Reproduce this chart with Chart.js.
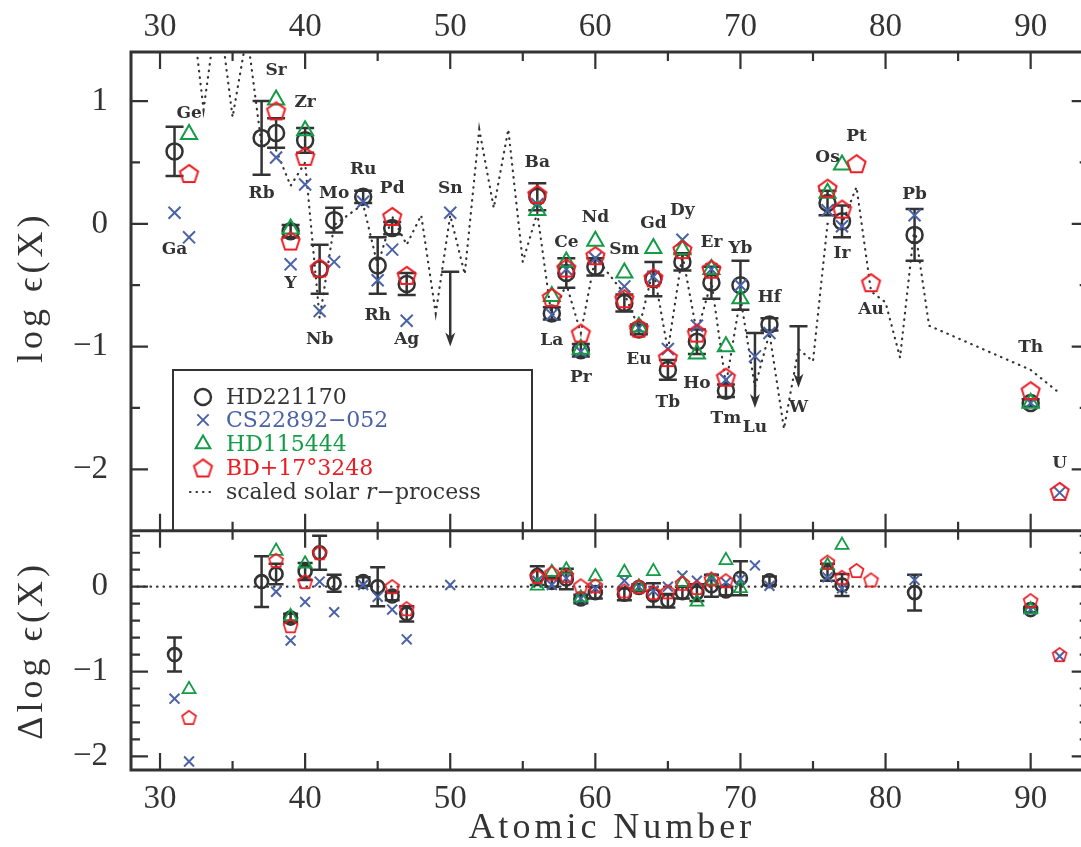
<!DOCTYPE html>
<html>
<head>
<meta charset="utf-8">
<script src="https://cdn.jsdelivr.net/npm/chart.js@4/dist/chart.umd.min.js"></script>
<style>
html,body{margin:0;padding:0;background:#fff;overflow:hidden}
#wrap{width:1100px;height:847px;position:relative}
</style>
</head>
<body>
<div id="wrap"><canvas id="c"></canvas></div>
<script>
// HD221170 (circles, with error bars)
const hdZ = [31,37,38,39,40,41,42,44,45,46,47,56,57,58,59,60,62,63,64,65,66,67,68,69,70,72,76,77,82,90];
const hdLog = [0.59,0.70,0.74,-0.06,0.68,-0.37,0.03,0.22,-0.34,-0.035,-0.49,0.22,-0.73,-0.40,-1.03,-0.35,-0.645,-0.86,-0.45,-1.19,-0.31,-0.96,-0.48,-1.36,-0.50,-0.82,0.17,0.02,-0.09,-1.46];
const hdErr = [0.20,0.30,0.12,0.05,0.10,0.20,0.10,0.05,0.23,0.05,0.09,0.11,0.05,0.12,0.05,0.07,0.07,0.04,0.14,0.08,0.07,0.10,0.13,0.05,0.20,0.05,0.10,0.13,0.21,0.03];
const hdDelta = [-0.80,0.06,0.15,-0.37,0.18,0.40,0.04,0.06,0.00,-0.11,-0.32,0.13,0.05,0.09,-0.145,-0.07,-0.09,-0.01,-0.10,-0.165,-0.07,-0.07,0.01,-0.05,0.10,0.07,0.17,0.02,-0.07,-0.27];
// HD221170 upper limits (Sn, Lu, W)
const ulZ = [50,71,74];
const ulLog = [-0.39,-0.89,-0.835];
const ulLen = [0.61,0.61,0.50];

// CS22892-052
const csZ = [31,32,38,39,40,41,42,44,45,46,47,50,56,57,58,59,60,62,63,64,65,66,67,68,69,70,71,72,76,77,82,90,92];
const csLog = [0.09,-0.11,0.54,-0.33,0.32,-0.71,-0.31,0.18,-0.46,-0.21,-0.79,0.09,0.16,-0.74,-0.37,-1.04,-0.28,-0.51,-0.85,-0.43,-1.02,-0.13,-0.83,-0.37,-1.27,-0.50,-1.08,-0.89,0.11,-0.02,0.07,-1.46,-2.19];
const csDelta = [-1.32,-2.06,-0.06,-0.635,-0.18,0.06,-0.30,0.02,-0.12,-0.27,-0.62,0.02,0.07,0.02,0.10,-0.14,-0.02,0.07,0.0,-0.05,0.0,0.13,0.07,0.10,0.05,0.09,0.25,0.01,0.11,-0.02,0.08,-0.27,-0.82];

// HD115444
const gZ = [32,38,39,40,56,57,58,59,60,62,63,64,66,67,68,69,70,76,77,90];
const gLog = [0.73,1.01,-0.04,0.76,0.11,-0.59,-0.31,-1.02,-0.14,-0.40,-0.84,-0.20,-0.21,-1.06,-0.37,-1.00,-0.61,0.25,0.48,-1.46];
const gDelta = [-1.21,0.42,-0.35,0.27,0.01,0.17,0.20,-0.13,0.12,0.17,0.0,0.18,0.05,-0.18,0.07,0.31,-0.02,0.25,0.49,-0.27];

// BD+17 3248
const rZ = [32,38,39,40,41,46,47,56,57,58,59,60,62,63,64,65,66,67,68,69,76,77,78,79,90,92];
const rLog = [0.41,0.92,-0.14,0.55,-0.36,0.06,-0.42,0.24,-0.60,-0.36,-0.89,-0.26,-0.61,-0.85,-0.44,-1.09,-0.21,-0.89,-0.37,-1.25,0.29,0.12,0.49,-0.48,-1.36,-2.18];
const rDelta = [-1.54,0.31,-0.46,0.06,0.40,0.0,-0.26,0.12,0.16,0.13,0.01,0.01,-0.05,0.0,-0.07,-0.06,0.04,-0.01,0.09,0.07,0.29,0.11,0.19,0.08,-0.165,-0.80];

// scaled solar r-process
const sZ = [31,32,33,34,35,36,37,38,39,40,41,42,44,45,46,47,48,49,50,51,52,53,54,55,56,57,58,59,60,62,63,64,65,66,67,68,69,70,71,72,73,74,75,76,77,78,79,80,81,82,83,90,92];
const sLog = [1.40,1.95,0.93,1.80,0.87,1.55,0.64,0.60,0.31,0.50,-0.77,-0.01,0.16,-0.34,0.06,-0.17,0.07,-0.73,0.07,-0.41,0.77,0.13,0.77,-0.31,0.09,-0.77,-0.49,-0.89,-0.27,-0.57,-0.85,-0.37,-1.03,-0.25,-0.89,-0.47,-1.31,-0.60,-1.33,-0.89,-1.67,-1.02,-1.12,0.0,0.0,0.30,-0.55,-0.64,-1.09,-0.02,-0.83,-1.19,-1.38];

// element names and where their label sits (log eps)
const elNames = ['Ga','Ge','Rb','Sr','Y','Zr','Nb','Mo','Ru','Rh','Pd','Ag','Sn','Ba','La','Ce','Pr','Nd','Sm','Eu','Gd','Tb','Dy','Ho','Er','Tm','Yb','Lu','Hf','W','Os','Ir','Pt','Au','Pb','Th','U'];
const elZ = [31,32,37,38,39,40,41,42,44,45,46,47,50,56,57,58,59,60,62,63,64,65,66,67,68,69,70,71,72,74,76,77,78,79,82,90,92];
const elLabelY = [-0.21,0.90,0.25,1.25,-0.49,0.99,-0.94,0.25,0.44,-0.75,0.29,-0.94,0.29,0.50,-0.95,-0.15,-1.25,0.05,-0.21,-1.11,0.0,-1.46,0.11,-1.30,-0.15,-1.59,-0.20,-1.66,-0.60,-1.50,0.54,-0.24,0.71,-0.70,0.24,-1.01,-1.95];

const xTicks = [30,40,50,60,70,80,90];
const yTopTicks = [-2,-1,0,1];
const yBotTicks = [-2,-1,0];

const INK = '#333333', BLUE = '#4a62a6', GREEN = '#129c45', RED = '#ec1c24';
const XMIN = 28, XMAX = 94;

function pentagon(R, lw, color) {
  const s = Math.ceil(2 * R + lw + 4);
  const c = document.createElement('canvas');
  c.width = s; c.height = s;
  const g = c.getContext('2d');
  g.strokeStyle = color; g.lineWidth = lw;
  g.beginPath();
  for (let i = 0; i < 5; i++) {
    const a = -Math.PI / 2 + i * 2 * Math.PI / 5;
    const px = s / 2 + R * Math.cos(a), py = s / 2 + R * Math.sin(a) + 0.095 * R;
    if (i) g.lineTo(px, py); else g.moveTo(px, py);
  }
  g.closePath(); g.stroke();
  return c;
}
const pentBig = pentagon(9.5, 2, RED);
const pentSmall = pentagon(7.3, 1.7, RED);

const pts = (zs, vs) => zs.map((z, i) => ({x: z, y: vs[i]}));
const minusFmt = v => v < 0 ? '\u2212' + Math.abs(v) : String(v);

function bar(ctx, x, y1, y2, h) {
  ctx.beginPath();
  ctx.moveTo(x, y1); ctx.lineTo(x, y2);
  ctx.moveTo(x - h, y1); ctx.lineTo(x + h, y1);
  ctx.moveTo(x - h, y2); ctx.lineTo(x + h, y2);
  ctx.stroke();
}

const decor = {
  id: 'decor',
  beforeDatasetsDraw(chart) {
    const {ctx, scales} = chart;
    const x = scales.x, yt = scales.y, yb = scales.yb;
    ctx.save();
    ctx.strokeStyle = INK; ctx.fillStyle = INK; ctx.lineWidth = 2.5;
    hdZ.forEach((z, i) => {
      const px = x.getPixelForValue(z);
      bar(ctx, px, yt.getPixelForValue(hdLog[i] - hdErr[i]), yt.getPixelForValue(hdLog[i] + hdErr[i]), 9);
      bar(ctx, px, yb.getPixelForValue(hdDelta[i] - hdErr[i]), yb.getPixelForValue(hdDelta[i] + hdErr[i]), 7.5);
    });
    ulZ.forEach((z, i) => {
      const px = x.getPixelForValue(z);
      const top = yt.getPixelForValue(ulLog[i]);
      const tip = yt.getPixelForValue(ulLog[i] - ulLen[i]);
      ctx.beginPath();
      ctx.moveTo(px - 9, top); ctx.lineTo(px + 9, top);
      ctx.moveTo(px, top); ctx.lineTo(px, tip - 8);
      ctx.stroke();
      ctx.beginPath();
      ctx.moveTo(px, tip); ctx.lineTo(px - 5, tip - 14); ctx.lineTo(px, tip - 10); ctx.lineTo(px + 5, tip - 14);
      ctx.closePath(); ctx.fill();
    });
    ctx.restore();
  },
  afterDraw(chart) {
    const {ctx, scales, chartArea: ca} = chart;
    const x = scales.x, yt = scales.y, yb = scales.yb;
    ctx.save();
    ctx.strokeStyle = INK; ctx.lineWidth = 3;
    ctx.strokeRect(ca.left, ca.top, ca.right - ca.left, ca.bottom - ca.top);
    ctx.beginPath(); ctx.moveTo(ca.left, yt.bottom); ctx.lineTo(ca.right, yt.bottom); ctx.stroke();

    // inward ticks
    ctx.lineWidth = 2.2;
    ctx.beginPath();
    for (let v = 30; v <= 90; v += 5) {
      const px = x.getPixelForValue(v), L = v % 10 === 0 ? 17 : 9;
      ctx.moveTo(px, yt.top); ctx.lineTo(px, yt.top + L);
      ctx.moveTo(px, yt.bottom); ctx.lineTo(px, yt.bottom - L);
      ctx.moveTo(px, yb.top); ctx.lineTo(px, yb.top + L);
      ctx.moveTo(px, yb.bottom); ctx.lineTo(px, yb.bottom - L);
    }
    for (let k = -4; k <= 2; k++) {
      const py = yt.getPixelForValue(k / 2), L = k % 2 === 0 ? 17 : 9;
      ctx.moveTo(ca.left, py); ctx.lineTo(ca.left + L, py);
      ctx.moveTo(ca.right, py); ctx.lineTo(ca.right - L, py);
    }
    for (let k = -10; k <= 3; k++) {
      const py = yb.getPixelForValue(k / 5), L = k % 5 === 0 ? 17 : 9;
      ctx.moveTo(ca.left, py); ctx.lineTo(ca.left + L, py);
      ctx.moveTo(ca.right, py); ctx.lineTo(ca.right - L, py);
    }
    ctx.stroke();

    // element labels
    ctx.fillStyle = INK;
    ctx.font = 'bold 17px "DejaVu Serif"';
    ctx.textAlign = 'center'; ctx.textBaseline = 'middle';
    elNames.forEach((n, i) => {
      ctx.fillText(n, x.getPixelForValue(elZ[i]), yt.getPixelForValue(elLabelY[i]));
    });

    // legend
    ctx.lineWidth = 2;
    ctx.strokeStyle = INK;
    ctx.beginPath();
    ctx.moveTo(173, yt.bottom); ctx.lineTo(173, 370); ctx.lineTo(532, 370); ctx.lineTo(532, yt.bottom);
    ctx.stroke();
    const rows = [
      {t: 'HD221170', c: INK, s: 'circle', r: 8, w: 2.4, y: 397},
      {t: 'CS22892\u2212052', c: BLUE, s: 'crossRot', r: 8, w: 2, y: 420},
      {t: 'HD115444', c: GREEN, s: 'triangle', r: 8.5, w: 2, y: 444},
      {t: 'BD+17\u00b03248', c: RED, s: pentBig, r: 9, w: 2, y: 468}
    ];
    ctx.textAlign = 'left';
    ctx.font = '22px "DejaVu Serif"';
    rows.forEach(row => {
      ctx.strokeStyle = row.c; ctx.fillStyle = 'rgba(0,0,0,0)'; ctx.lineWidth = row.w;
      Chart.helpers.drawPoint(ctx, {pointStyle: row.s, radius: row.r, borderWidth: row.w, rotation: 0}, 203, row.y);
      ctx.fillStyle = row.c;
      ctx.fillText(row.t, 226, row.y + 1);
    });
    ctx.strokeStyle = INK; ctx.lineWidth = 2.2; ctx.lineCap = 'round';
    ctx.setLineDash([0.5, 6]);
    ctx.beginPath(); ctx.moveTo(190, 492); ctx.lineTo(214, 492); ctx.stroke();
    ctx.setLineDash([]);
    ctx.fillStyle = INK;
    let tx = 226;
    const part1 = 'scaled solar ';
    ctx.fillText(part1, tx, 493); tx += ctx.measureText(part1).width;
    ctx.font = 'italic 22px "DejaVu Serif"';
    ctx.fillText('r', tx, 493); tx += ctx.measureText('r').width;
    ctx.font = '22px "DejaVu Serif"';
    ctx.fillText('\u2212process', tx, 493);

    // axis titles
    ctx.font = '36px "Liberation Serif"';
    ctx.letterSpacing = '4px';
    ctx.textAlign = 'center';
    ctx.fillText('Atomic Number', (ca.left + ca.right) / 2 + 2, 829);
    ctx.save();
    ctx.translate(33, (yt.top + yt.bottom) / 2 - 4);
    ctx.rotate(-Math.PI / 2);
    ctx.fillText('log \u03f5(X)', 0, 0);
    ctx.restore();
    ctx.save();
    ctx.translate(33, (yb.top + yb.bottom) / 2);
    ctx.rotate(-Math.PI / 2);
    ctx.fillText('\u0394log \u03f5(X)', 0, 0);
    ctx.restore();
    ctx.restore();
  }
};

const tickFont = {family: 'Liberation Serif', size: 33};
const xAxis = (pos, h, pad) => ({
  type: 'linear', position: pos, min: XMIN, max: XMAX,
  afterBuildTicks: s => { s.ticks = xTicks.map(v => ({value: v})); },
  afterFit: s => { s.height = h; },
  grid: {display: false, drawTicks: false},
  border: {display: false},
  ticks: {font: tickFont, color: INK, padding: pad, maxRotation: 0, autoSkip: false}
});
const yAxis = (min, max, ticks, weight) => ({
  type: 'linear', position: 'left', stack: 'panels', stackWeight: weight, weight: weight,
  min: min, max: max,
  afterBuildTicks: s => { s.ticks = ticks.map(v => ({value: v})); },
  afterFit: s => { s.width = 131; },
  grid: {display: false, drawTicks: false},
  border: {display: false},
  ticks: {font: tickFont, color: INK, padding: 23, callback: minusFmt}
});

const topSet = (data, style, color, r, bw, ord) => ({
  data, yAxisID: 'y', showLine: false, pointStyle: style, pointRadius: r,
  pointBorderColor: color, pointBackgroundColor: 'rgba(0,0,0,0)', pointBorderWidth: bw, order: ord
});
const botSet = (data, style, color, r, bw, ord) => Object.assign(topSet(data, style, color, r, bw, ord), {yAxisID: 'yb'});

new Chart(document.getElementById('c'), {
  type: 'scatter',
  data: {
    datasets: [
      {data: pts(sZ, sLog), yAxisID: 'y', showLine: true, borderColor: INK, borderWidth: 2.2,
       borderDash: [0.5, 6], borderCapStyle: 'round', pointRadius: 0, order: 9, fill: false},
      {data: [{x: XMIN, y: 0}, {x: XMAX, y: 0}], yAxisID: 'yb', showLine: true, borderColor: INK, borderWidth: 2.2,
       borderDash: [0.5, 6], borderCapStyle: 'round', pointRadius: 0, order: 9, fill: false},
      topSet(pts(hdZ, hdLog), 'circle', INK, 8, 2.5, 4),
      topSet(pts(csZ, csLog), 'crossRot', BLUE, 8.5, 2, 3),
      topSet(pts(gZ, gLog), 'triangle', GREEN, 9.3, 2, 2),
      topSet(pts(rZ, rLog), pentBig, RED, 9, 2, 1),
      botSet(pts(hdZ, hdDelta), 'circle', INK, 6.5, 2.6, 4),
      botSet(pts(csZ, csDelta), 'crossRot', BLUE, 7, 2, 3),
      botSet(pts(gZ, gDelta), 'triangle', GREEN, 7.5, 1.8, 2),
      botSet(pts(rZ, rDelta), pentSmall, RED, 7, 1.7, 1)
    ]
  },
  options: {
    responsive: true, maintainAspectRatio: false, animation: false, events: [],
    layout: {padding: {top: 0, right: 6, bottom: 0, left: 0}},
    plugins: {legend: {display: false}, tooltip: {enabled: false}},
    scales: {
      x: xAxis('bottom', 77, 10),
      x2: xAxis('top', 52, 5),
      y: yAxis(-2.5, 1.4, yTopTicks, 2),
      yb: yAxis(-2.16, 0.66, yBotTicks, 1)
    }
  },
  plugins: [decor]
});
</script>
</body>
</html>
